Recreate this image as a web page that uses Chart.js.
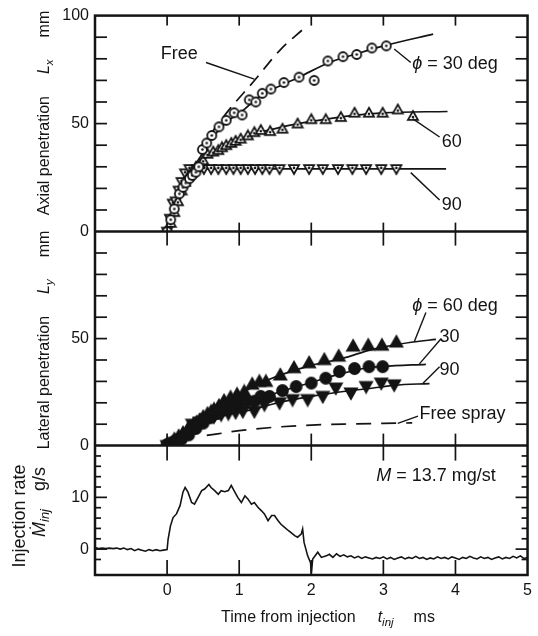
<!DOCTYPE html>
<html><head><meta charset="utf-8">
<script src="https://cdn.jsdelivr.net/npm/chart.js@4.4.1/dist/chart.umd.min.js"></script>
<style>html,body{margin:0;padding:0;background:#fff;}#wrap{width:538px;height:636px;}</style>
</head><body><div id="wrap"><canvas id="c" width="538" height="636"></canvas></div>
<script>
// ---------------- DATA ----------------
const xTickLabels = [0, 1, 2, 3, 4, 5];
const axialTickLabels = [0, 50, 100];
const lateralTickLabels = [0, 50];
const rateTickLabels = [0, 10];

// Top panel: axial penetration Lx (mm)
const axial30Time = [0,0.05,0.10,0.17,0.22,0.26,0.31,0.35,0.40,0.44,0.49,0.55,0.62,0.72,0.82,0.93,1.04,1.14,1.23,1.32,1.44,1.62,1.83,2.04,2.23,2.44,2.63,2.84,3.04];
const axial30Lx   = [0,5.5,10.5,17.5,20.5,22.5,24.5,26,27.5,30,38,41,44.5,48.5,51.5,55,54,61,60,64,66,69,71.5,70,79,81,82,85,86];
const axial30FitTime = [0,0.1,0.2,0.3,0.45,0.6,0.8,1.05,1.32,1.6,1.83,2.25,2.6,3.04,3.69];
const axial30FitLx   = [0,10,19,26,34,42,50,56,63.5,68,71.5,78.3,82,86.3,91.4];

const axial60Time = [0,0.05,0.1,0.15,0.2,0.25,0.3,0.35,0.4,0.45,0.5,0.56,0.64,0.71,0.76,0.82,0.89,0.95,1.02,1.12,1.21,1.30,1.43,1.60,1.81,2.0,2.2,2.41,2.6,2.8,2.99,3.2,3.41];
const axial60Lx   = [0,4,9,14,19,23,26,28,30,31.5,33,36,37,37.7,39,40,41,42,43,44.5,46,47,46.5,47.6,50,52,52,53,55,55,55,56.5,53.5];
const axial60FitTime = [0,0.2,0.5,0.8,1.2,1.6,2.0,2.5,3.0,3.89];
const axial60FitLx   = [0,19,33,40,45,48.5,51,53.5,55,55.6];

const axial90Time = [0,0.04,0.08,0.12,0.16,0.2,0.25,0.31,0.41,0.51,0.61,0.71,0.82,0.92,1.02,1.12,1.22,1.32,1.42,1.56,1.76,1.97,2.16,2.37,2.57,2.76,2.97,3.18];
const axial90Lx   = [0,6,13,14,19,23,27,29,29,29,29,29,29,29,29,29,29,29,29,29,29,29,29,29,29,29,29,29];
const axial90FitTime = [0,0.1,0.2,0.3,0.4,3.87];
const axial90FitLx   = [0,11,22,28.5,29,29];

const freeAxialTime = [0.6,0.85,1.2,1.58,1.88];
const freeAxialLx   = [45,56,69.5,84.5,93.5];

// Middle panel: lateral penetration Ly (mm)
const lat60Time = [0,0.1,0.16,0.22,0.29,0.36,0.41,0.45,0.5,0.56,0.61,0.65,0.72,0.79,0.88,0.97,1.07,1.18,1.28,1.37,1.57,1.76,1.97,2.18,2.38,2.58,2.79,2.98,3.18];
const lat60Ly   = [0.8,3,4.5,6,8,9.8,11,12,13.5,15,16,17,18.7,21,22.6,24,25.3,28.7,30,30,33,36.4,38.7,40.2,41.8,46.5,46.9,46.9,48.4];
const lat60FitTime = [0,0.5,1.0,1.42,2.0,2.43,2.85,3.41,3.73];
const lat60FitLy   = [0,13,24,31,37.5,40.7,45,48.4,49.6];

const lat30Time = [0,0.1,0.2,0.3,0.4,0.5,0.6,0.7,0.8,0.9,1.0,1.1,1.21,1.3,1.42,1.6,1.79,2.0,2.2,2.39,2.6,2.8,2.99];
const lat30Ly   = [0.5,2,3,5,8,10.5,13,15,17,18.5,20,21,20.7,23,23,25.7,27.6,29.2,31.5,34.6,36,36.9,36.9];
const lat30FitTime = [0,0.6,1.2,1.6,2.0,2.4,2.8,3.0,3.59];
const lat30FitLy   = [0,13,21,25.5,29.5,33.5,36.5,37,38];

const lat90Time = [0,0.1,0.2,0.35,0.45,0.55,0.65,0.75,0.85,0.95,1.05,1.21,1.35,1.56,1.74,1.95,2.16,2.34,2.55,2.76,2.97,3.15];
const lat90Ly   = [0,1.5,3,10,11,12.5,13.5,14.5,15,15.5,16,16,19.2,20,21.5,21.5,23,26.9,24.6,27.6,29.2,28.4];
const lat90FitTime = [0,0.6,1.2,1.6,2.0,2.5,3.0,3.15,3.64];
const lat90FitLy   = [0,12,17,20.5,23,25.5,27.5,28.2,29];

const freeSprayTime = [0.55,0.7,1.0,1.5,2.0,2.5,3.0,3.4];
const freeSprayLy   = [4.8,5.5,7,8.6,9.6,10.1,10.4,10.6];

// Bottom panel: injection rate (g/s)
const rateTime = [-1.00,-0.95,-0.90,-0.85,-0.80,-0.75,-0.70,-0.65,-0.60,-0.55,-0.50,-0.45,-0.40,-0.35,-0.30,-0.25,-0.20,-0.15,-0.10,-0.05,0.00,
 0.014,0.047,0.083,0.13,0.18,0.22,0.25,0.29,0.34,0.38,0.43,0.48,0.52,0.58,0.61,0.66,0.71,0.75,0.80,0.85,
 0.89,0.94,0.98,1.03,1.08,1.12,1.17,1.21,1.26,1.31,1.35,1.40,1.45,1.49,1.54,1.58,1.63,1.68,1.72,1.77,
 1.81,1.86,1.88,1.90,1.95,1.99,2.00,2.02,2.09,2.14,2.21,
 2.25,2.30,2.35,2.40,2.45,2.50,2.55,2.60,2.65,2.70,2.75,2.80,2.85,2.90,2.95,3.00,3.05,3.10,3.15,3.20,
 3.25,3.30,3.35,3.40,3.45,3.50,3.55,3.60,3.65,3.70,3.75,3.80,3.85,3.90,3.95,4.00,4.05,4.10,4.15,4.20,
 4.25,4.30,4.35,4.40,4.45,4.50,4.55,4.60,4.65,4.70,4.75,4.80,4.85,4.90,4.95,5.00];
const rateValue = [0.3,0.1,0.2,0.1,0.2,0.1,0.2,0.0,0.2,-0.1,0.1,-0.3,0.0,-0.2,-0.4,-0.1,-0.3,-0.1,-0.3,-0.2,-0.1,
 1.9,4.5,6.1,6.8,8.4,11.0,11.9,11.0,9.0,8.7,10.0,11.3,11.6,12.5,11.9,11.3,10.6,11.3,11.1,11.3,
 12.3,11.0,10.0,9.0,10.3,9.7,8.7,9.0,8.1,7.4,6.8,5.5,6.5,6.5,5.5,4.8,4.2,3.6,3.2,2.6,
 2.3,2.9,3.9,1.3,-1.3,-2.6,-4.8,-1.9,-0.6,-1.6,-1.3,
 -1.0,-1.6,-0.9,-1.4,-1.1,-1.5,-1.3,-1.7,-1.4,-1.8,-1.5,-1.7,-1.9,-1.6,-1.8,-1.5,-1.9,-1.6,-2.0,-1.7,
 -1.5,-1.9,-1.6,-1.8,-1.4,-1.8,-1.6,-2.0,-1.7,-1.9,-1.5,-1.8,-1.6,-1.9,-1.5,-1.7,-2.0,-1.6,-1.8,-1.4,
 -1.7,-1.9,-1.5,-1.8,-1.6,-2.0,-1.7,-1.5,-1.9,-1.6,-1.8,-1.4,-1.7,-1.3,-1.8,-1.6];

// ---------------- LABEL TEXTS ----------------
const axialNotes = [
  {segs:[{t:'Free'}], x:0.17, y:82, align:'center'},
  {segs:[{t:'\u03D5', it:true},{t:' = 30 deg'}], x:3.4, y:77.5, align:'left'},
  {segs:[{t:'60'}], x:3.95, y:41.5, align:'center'},
  {segs:[{t:'90'}], x:3.95, y:12.3, align:'center'}
];
const axialLeaders = [[0.54,78.3,1.21,70.6],[3.15,84.5,3.38,78.3],[3.41,52.2,3.78,43.8],[3.38,27.3,3.78,14.6]];
const lateralNotes = [
  {segs:[{t:'\u03D5', it:true},{t:' = 60 deg'}], x:3.4, y:65.4, align:'left'},
  {segs:[{t:'30'}], x:3.78, y:50.7, align:'left'},
  {segs:[{t:'90'}], x:3.78, y:35.3, align:'left'},
  {segs:[{t:'Free spray'}], x:3.5, y:14.6, align:'left'}
];
const lateralLeaders = [[3.59,62.2,3.43,48.6],[3.8,49.9,3.5,38.2],[3.78,36.9,3.55,29.1],[3.48,13.8,3.2,10.4]];
const rateNotes = [
  {segs:[{t:'M', it:true},{t:' = 13.7 mg/st'}], x:2.9, y:14.1, align:'left'}
];

// ---------------- DRAWING ----------------
const ink = '#141414';
const FAM = "'Liberation Sans', Arial, 'DejaVu Sans', sans-serif";

function marker(shape, filled, w, dot) {
  const s = Math.ceil(w + 4);
  const c = document.createElement('canvas');
  c.width = s; c.height = s;
  const g = c.getContext('2d');
  g.translate(s / 2, s / 2);
  g.strokeStyle = ink; g.fillStyle = filled ? ink : '#fff'; g.lineWidth = 1.8;
  const r = w / 2;
  g.beginPath();
  if (shape === 'circle') g.arc(0, 0, r, 0, Math.PI * 2);
  else if (shape === 'up') { g.moveTo(0, -r); g.lineTo(r, r * 0.78); g.lineTo(-r, r * 0.78); g.closePath(); }
  else { g.moveTo(0, r); g.lineTo(r, -r * 0.78); g.lineTo(-r, -r * 0.78); g.closePath(); }
  g.fill(); g.stroke();
  if (dot) {
    g.fillStyle = ink; g.beginPath();
    const dy = shape === 'up' ? r * 0.22 : shape === 'down' ? -r * 0.22 : 0;
    g.arc(0, dy, 1.3, 0, Math.PI * 2); g.fill();
  }
  return c;
}

const pts = (xs, ys) => xs.map((x, i) => ({x, y: ys[i]}));
const markerSet = (xs, ys, axis, style) => ({data: pts(xs, ys), yAxisID: axis, showLine: false,
  pointStyle: style, pointRadius: 5, borderColor: ink, backgroundColor: ink});
const lineSet = (xs, ys, axis, dash, w) => ({data: pts(xs, ys), yAxisID: axis, showLine: true,
  pointRadius: 0, borderColor: ink, borderWidth: w || 1.7, borderDash: dash || [],
  cubicInterpolationMode: 'monotone', fill: false});

function fontFor(seg, size) {
  const sz = seg.sub ? size * 0.72 : size;
  return (seg.it ? 'italic ' : '') + sz + 'px ' + FAM;
}
function drawRich(ctx, segs, x, y, align, size) {
  let w = 0;
  segs.forEach(s => { if (s.gap) { s.w = s.gap; } else { ctx.font = fontFor(s, size); s.w = ctx.measureText(s.t).width; } w += s.w; });
  let cx = align === 'center' ? x - w / 2 : align === 'right' ? x - w : x;
  ctx.textAlign = 'left'; ctx.textBaseline = 'middle';
  segs.forEach(s => {
    if (!s.gap) { ctx.font = fontFor(s, size); ctx.fillText(s.t, cx, y + (s.sub ? size * 0.32 : 0)); }
    cx += s.w;
  });
}

const framePlugin = {
  id: 'frame',
  afterDatasetsDraw(chart) {
    const {ctx, chartArea: a, scales} = chart;
    const xs = scales.x;
    const panels = [
      {sc: scales.yAx, labels: axialTickLabels, len: 12, major: 12, down: 10, up: 9},
      {sc: scales.yLat, labels: lateralTickLabels, len: 12, major: 12, down: 14, up: 12},
      {sc: scales.yRate, labels: rateTickLabels, len: 6, major: 12, down: 15, up: 15}
    ];
    const seg = (x1, y1, x2, y2) => { ctx.beginPath(); ctx.moveTo(x1, y1); ctx.lineTo(x2, y2); ctx.stroke(); };
    ctx.save();
    ctx.strokeStyle = ink; ctx.lineWidth = 1.7;
    panels.forEach(p => {
      const sc = p.sc;
      sc.ticks.forEach(tk => {
        const v = tk.value;
        if (v <= sc.min || v >= sc.max) return;
        const py = sc.getPixelForValue(v);
        const L = p.labels.includes(v) ? p.major : p.len;
        seg(a.left, py, a.left + L, py);
        seg(a.right - L, py, a.right, py);
      });
      xs.ticks.forEach(tk => {
        const v = tk.value;
        if (v <= xs.min || v >= xs.max) return;
        const px = xs.getPixelForValue(v);
        seg(px, sc.top, px, sc.top + p.down);
        seg(px, sc.bottom - p.up, px, sc.bottom);
      });
    });
    ctx.lineWidth = 2.5;
    ctx.strokeRect(a.left, a.top, a.right - a.left, a.bottom - a.top);
    seg(a.left, scales.yAx.bottom, a.right, scales.yAx.bottom);
    seg(a.left, scales.yLat.bottom, a.right, scales.yLat.bottom);
    ctx.restore();
  }
};

const textPlugin = {
  id: 'texts',
  afterDraw(chart) {
    const {ctx, scales} = chart;
    const xs = scales.x;
    ctx.save();
    ctx.fillStyle = ink; ctx.strokeStyle = ink; ctx.lineWidth = 1.4;
    const groups = [
      {sc: scales.yAx, notes: axialNotes, leaders: axialLeaders},
      {sc: scales.yLat, notes: lateralNotes, leaders: lateralLeaders},
      {sc: scales.yRate, notes: rateNotes, leaders: []}
    ];
    groups.forEach(g => {
      g.leaders.forEach(l => {
        ctx.beginPath();
        ctx.moveTo(xs.getPixelForValue(l[0]), g.sc.getPixelForValue(l[1]));
        ctx.lineTo(xs.getPixelForValue(l[2]), g.sc.getPixelForValue(l[3]));
        ctx.stroke();
      });
      g.notes.forEach(n => drawRich(ctx, n.segs, xs.getPixelForValue(n.x), g.sc.getPixelForValue(n.y), n.align, 18));
    });
    // axis titles
    const rot = (x, y, segs, size) => {
      ctx.save(); ctx.translate(x, y); ctx.rotate(-Math.PI / 2);
      drawRich(ctx, segs, 0, 0, 'center', size); ctx.restore();
    };
    rot(45, 113, [{t:'Axial penetration'},{gap:22},{t:'L', it:true},{t:'x', it:true, sub:true},{gap:22},{t:'mm'}], 16);
    rot(45, 340, [{t:'Lateral penetration'},{gap:22},{t:'L', it:true},{t:'y', it:true, sub:true},{gap:22},{t:'mm'}], 16);
    rot(20, 516, [{t:'Injection rate'}], 18);
    rot(40, 502, [{t:'\u1E40', it:true},{t:'inj', it:true, sub:true},{gap:18},{t:'g/s'}], 18);
    drawRich(ctx, [{t:'Time from injection'},{gap:22},{t:'t', it:true},{t:'inj', it:true, sub:true},{gap:20},{t:'ms'}], 328, 618, 'center', 16);
    ctx.restore();
  }
};

const circDot = marker('circle', false, 9, true);
const upOpen = marker('up', false, 10, true);
const downOpen = marker('down', false, 10, true);
const upFill = marker('up', true, 12, false);
const circFill = marker('circle', true, 11, false);
const downFill = marker('down', true, 12, false);

const tickFont = {family: FAM, size: 16};
const yScale = (stackWeight, min, max, step, labels) => ({
  type: 'linear', position: 'left', stack: 'panels', stackWeight, min, max, offset: false,
  grid: {display: false, drawTicks: false}, border: {display: false},
  ticks: {stepSize: step, autoSkip: false, padding: 6, color: ink, font: tickFont,
    callback: v => labels.includes(v) ? String(v) : ''},
  afterFit: s => { s.width = 95; }
});

new Chart(document.getElementById('c'), {
  type: 'line',
  data: {datasets: [
    markerSet(axial30Time, axial30Lx, 'yAx', circDot),
    markerSet(axial60Time, axial60Lx, 'yAx', upOpen),
    markerSet(axial90Time, axial90Lx, 'yAx', downOpen),
    markerSet(lat60Time, lat60Ly, 'yLat', upFill),
    markerSet(lat30Time, lat30Ly, 'yLat', circFill),
    markerSet(lat90Time, lat90Ly, 'yLat', downFill),
    lineSet(axial30FitTime, axial30FitLx, 'yAx'),
    lineSet(axial60FitTime, axial60FitLx, 'yAx'),
    lineSet(axial90FitTime, axial90FitLx, 'yAx'),
    lineSet(freeAxialTime, freeAxialLx, 'yAx', [13, 8]),
    lineSet(lat60FitTime, lat60FitLy, 'yLat'),
    lineSet(lat30FitTime, lat30FitLy, 'yLat'),
    lineSet(lat90FitTime, lat90FitLy, 'yLat'),
    lineSet(freeSprayTime, freeSprayLy, 'yLat', [15, 10]),
    Object.assign(lineSet(rateTime, rateValue, 'yRate', [], 1.6), {cubicInterpolationMode: 'default', tension: 0})
  ]},
  options: {
    responsive: false, animation: false, devicePixelRatio: 1,
    layout: {padding: {top: 13, right: 10, bottom: 0, left: 0}},
    plugins: {legend: {display: false}, tooltip: {enabled: false}},
    scales: {
      x: {type: 'linear', min: -1, max: 5,
        grid: {display: false, drawTicks: false}, border: {display: false},
        ticks: {stepSize: 1, autoSkip: false, padding: 6, color: ink, font: tickFont,
          callback: v => xTickLabels.includes(v) ? String(v) : ''},
        afterFit: s => { s.height = 61; }},
      yRate: yScale(130, -5, 20, 2, rateTickLabels),
      yLat: yScale(215, 0, 100, 10, lateralTickLabels),
      yAx: yScale(217, 0, 100, 10, axialTickLabels)
    }
  },
  plugins: [framePlugin, textPlugin]
});
</script></body></html>
